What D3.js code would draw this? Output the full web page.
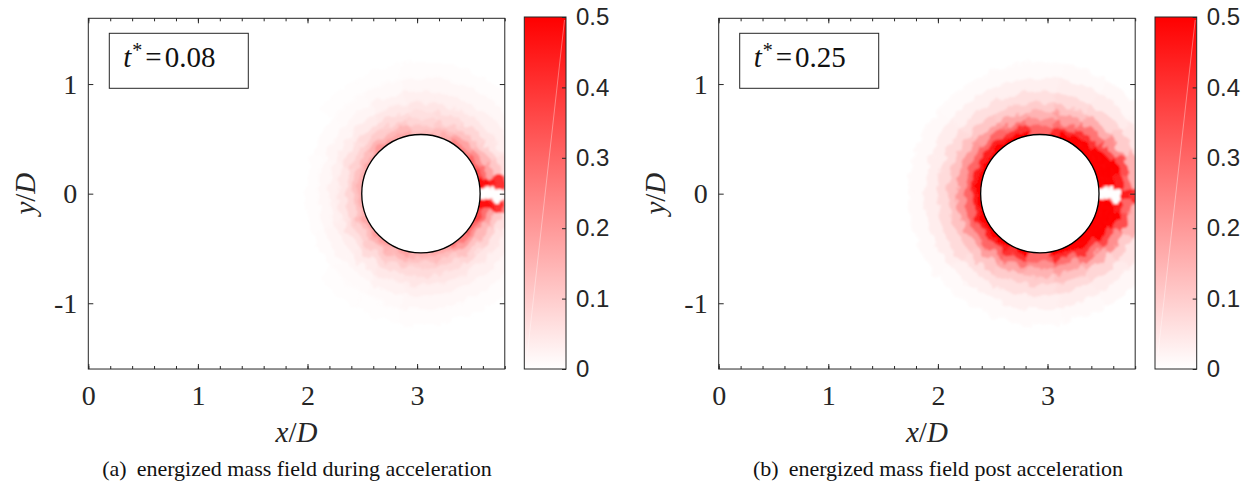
<!DOCTYPE html>
<html>
<head>
<meta charset="utf-8">
<script src="https://cdn.jsdelivr.net/npm/d3@7"></script>
<style>
  html, body { margin: 0; padding: 0; background: #ffffff; }
  svg { display: block; }
</style>
</head>
<body>
<svg id="fig" width="1252" height="489"></svg>
<script>
// ---- axis ranges and tick labels ----
const xDomain = [0, 3.8];
const yDomain = [-1.6, 1.6];
const xTickValues = [0, 1, 2, 3];
const yTickValues = [-1, 0, 1];
const colorDomain = [0, 0.5];
const colorTickValues = [0, 0.1, 0.2, 0.3, 0.4, 0.5];

// ---- polar bins around the cylinder ----
// angle edges in degrees, counter-clockwise from +x
const angleEdges = [-180, -160, -140, -120, -100, -80, -60, -40, -25, -13, -5,
                    5, 13, 25, 40, 60, 80, 100, 120, 140, 160, 180];
// distance from the cylinder wall, in D
const wallDistEdges = [0, 0.04, 0.09, 0.15, 0.22, 0.30, 0.40, 0.52, 0.66];
const cylinderRadius = 0.54;

// ---- panel (a): t* = 0.08 ----
const timeA = "0.08";
const centerA = [3.035, 0];
// energized mass, one row per angle bin (from -180 deg upward), one column per wall-distance ring
const fieldA = [
  [0.15, 0.12, 0.08, 0.05, 0.03, 0.015, 0.005, 0.0],
  [0.17, 0.13, 0.09, 0.06, 0.035, 0.02, 0.008, 0.0],
  [0.19, 0.15, 0.10, 0.07, 0.04, 0.02, 0.01, 0.003],
  [0.18, 0.14, 0.10, 0.07, 0.045, 0.025, 0.012, 0.004],
  [0.15, 0.12, 0.09, 0.07, 0.05, 0.03, 0.015, 0.005],
  [0.17, 0.13, 0.10, 0.07, 0.05, 0.03, 0.015, 0.005],
  [0.26, 0.19, 0.12, 0.08, 0.05, 0.03, 0.015, 0.005],
  [0.30, 0.22, 0.14, 0.09, 0.05, 0.03, 0.015, 0.005],
  [0.36, 0.28, 0.18, 0.11, 0.06, 0.03, 0.015, 0.005],
  [0.48, 0.48, 0.45, 0.40, 0.25, 0.10, 0.03, 0.01],
  [0.0, 0.0, 0.0, 0.0, 0.02, 0.02, 0.01, 0.0],
  [0.48, 0.48, 0.45, 0.40, 0.25, 0.10, 0.03, 0.01],
  [0.35, 0.28, 0.18, 0.11, 0.06, 0.03, 0.015, 0.005],
  [0.30, 0.22, 0.14, 0.09, 0.05, 0.03, 0.015, 0.005],
  [0.24, 0.18, 0.12, 0.08, 0.05, 0.03, 0.015, 0.005],
  [0.16, 0.13, 0.10, 0.07, 0.05, 0.03, 0.015, 0.005],
  [0.13, 0.11, 0.08, 0.06, 0.05, 0.03, 0.015, 0.005],
  [0.17, 0.14, 0.10, 0.07, 0.045, 0.025, 0.012, 0.004],
  [0.20, 0.15, 0.10, 0.07, 0.04, 0.02, 0.01, 0.003],
  [0.17, 0.13, 0.09, 0.06, 0.035, 0.02, 0.008, 0.0],
  [0.15, 0.12, 0.08, 0.05, 0.03, 0.015, 0.005, 0.0]
];

// ---- panel (b): t* = 0.25 ----
const timeB = "0.25";
const centerB = [2.93, 0];
const fieldB = [
  [0.50, 0.45, 0.30, 0.20, 0.12, 0.07, 0.035, 0.012],
  [0.50, 0.45, 0.30, 0.20, 0.12, 0.07, 0.035, 0.012],
  [0.50, 0.44, 0.30, 0.19, 0.11, 0.06, 0.03, 0.01],
  [0.50, 0.40, 0.27, 0.17, 0.10, 0.06, 0.03, 0.01],
  [0.30, 0.30, 0.22, 0.15, 0.10, 0.06, 0.03, 0.01],
  [0.50, 0.42, 0.28, 0.19, 0.12, 0.07, 0.035, 0.012],
  [0.50, 0.50, 0.40, 0.27, 0.16, 0.08, 0.04, 0.015],
  [0.50, 0.50, 0.50, 0.36, 0.22, 0.10, 0.05, 0.02],
  [0.50, 0.50, 0.50, 0.50, 0.35, 0.15, 0.06, 0.02],
  [0.50, 0.50, 0.50, 0.45, 0.30, 0.15, 0.06, 0.02],
  [0.0, 0.0, 0.0, 0.0, 0.45, 0.40, 0.20, 0.05],
  [0.50, 0.50, 0.50, 0.45, 0.30, 0.15, 0.06, 0.02],
  [0.50, 0.50, 0.50, 0.50, 0.35, 0.15, 0.06, 0.02],
  [0.50, 0.50, 0.50, 0.36, 0.22, 0.10, 0.05, 0.02],
  [0.50, 0.50, 0.40, 0.27, 0.16, 0.08, 0.04, 0.015],
  [0.50, 0.42, 0.28, 0.19, 0.12, 0.07, 0.035, 0.012],
  [0.30, 0.30, 0.22, 0.15, 0.10, 0.06, 0.03, 0.01],
  [0.50, 0.40, 0.27, 0.17, 0.10, 0.06, 0.03, 0.01],
  [0.50, 0.44, 0.30, 0.19, 0.11, 0.06, 0.03, 0.01],
  [0.50, 0.45, 0.30, 0.20, 0.12, 0.07, 0.035, 0.012],
  [0.50, 0.45, 0.30, 0.20, 0.12, 0.07, 0.035, 0.012]
];

// ---- captions ----
const captionTags = ["(a)", "(b)"];
const captionTexts = ["energized mass field during acceleration",
                      "energized mass field post acceleration"];

// ------------------------------------------------------------------
const SERIF = "'Liberation Serif', 'Times New Roman', serif";
const SANS = "'Liberation Sans', Arial, Helvetica, sans-serif";
const INK = "#262626";

const svg = d3.select("#fig");
const defs = svg.append("defs");

// particle-like softening of the cell edges
const soften = defs.append("filter").attr("id", "soften")
  .attr("x", "-20%").attr("y", "-20%").attr("width", "140%").attr("height", "140%");
soften.append("feTurbulence").attr("type", "fractalNoise").attr("baseFrequency", 0.1)
  .attr("numOctaves", 2).attr("seed", 7).attr("result", "grain");
soften.append("feDisplacementMap").attr("in", "SourceGraphic").attr("in2", "grain")
  .attr("scale", 12).attr("xChannelSelector", "R").attr("yChannelSelector", "G").attr("result", "moved");
soften.append("feGaussianBlur").attr("in", "moved").attr("stdDeviation", 1.2);

const color = d3.scaleLinear().domain(colorDomain).range(["#ffffff", "#ff0000"]).clamp(true);

const grad = defs.append("linearGradient").attr("id", "cbGrad")
  .attr("x1", 0).attr("y1", 1).attr("x2", 0).attr("y2", 0);
grad.append("stop").attr("offset", 0).attr("stop-color", color(colorDomain[0]));
grad.append("stop").attr("offset", 1).attr("stop-color", color(colorDomain[1]));

const unit = 109.6;        // pixels per D (equal aspect)
const plotTop = 18.3;
const panels = [
  { left: 88.3, cbLeft: 524.3, center: centerA, field: fieldA, time: timeA,
    tag: captionTags[0], caption: captionTexts[0], capX: 297, yLabelX: 35 },
  { left: 718.7, cbLeft: 1155, center: centerB, field: fieldB, time: timeB,
    tag: captionTags[1], caption: captionTexts[1], capX: 938, yLabelX: 665 }
];

panels.forEach((p, pi) => {
  const x = d3.scaleLinear().domain(xDomain).range([p.left, p.left + (xDomain[1] - xDomain[0]) * unit]);
  const y = d3.scaleLinear().domain(yDomain).range([plotTop + (yDomain[1] - yDomain[0]) * unit, plotTop]);
  const [x0, x1] = x.range();
  const [yb, yt] = y.range();
  const px = d => x(d) - x(0);   // length in D -> pixels

  // clip region = axes box
  defs.append("clipPath").attr("id", "clip" + pi)
    .append("rect").attr("x", x0).attr("y", yt).attr("width", x1 - x0).attr("height", yb - yt);

  // energized mass field as annular cells around the cylinder
  const clipped = svg.append("g").attr("clip-path", `url(#clip${pi})`);
  const fieldG = clipped.append("g").attr("filter", "url(#soften)")
    .attr("transform", `translate(${x(p.center[0])},${y(p.center[1])})`);
  const arc = d3.arc();
  const cells = [];
  p.field.forEach((row, ai) => row.forEach((v, ri) => {
    cells.push({ a0: angleEdges[ai], a1: angleEdges[ai + 1],
                 r0: ri === 0 ? cylinderRadius - 0.08 : cylinderRadius + wallDistEdges[ri],
                 r1: cylinderRadius + wallDistEdges[ri + 1], v });
  }));
  fieldG.selectAll("path").data(cells).join("path")
    .attr("d", c => arc({
      innerRadius: px(c.r0), outerRadius: px(c.r1),
      startAngle: (90 - c.a1) * Math.PI / 180,
      endAngle: (90 - c.a0) * Math.PI / 180
    }))
    .attr("fill", c => color(c.v))
    .attr("stroke", c => color(c.v))
    .attr("stroke-width", 0.8);

  // cylinder
  svg.append("circle")
    .attr("cx", x(p.center[0])).attr("cy", y(p.center[1])).attr("r", px(cylinderRadius))
    .attr("fill", "#ffffff").attr("stroke", "#000000").attr("stroke-width", 1.3);

  // axes box
  svg.append("rect").attr("x", x0).attr("y", yt).attr("width", x1 - x0).attr("height", yb - yt)
    .attr("fill", "none").attr("stroke", INK).attr("stroke-width", 1);

  const minorX = d3.range(0, xDomain[1] + 1e-9, 0.2);
  const styleAxis = g => {
    g.attr("font-family", null).attr("font-size", null);
    g.select(".domain").remove();
    g.selectAll(".tick line").attr("stroke", INK).attr("stroke-width", 1);
  };
  // minor ticks top/bottom
  svg.append("g").attr("transform", `translate(0,${yb})`)
    .call(d3.axisBottom(x).tickValues(minorX).tickSize(-3).tickFormat(""))
    .call(styleAxis);
  svg.append("g").attr("transform", `translate(0,${yt})`)
    .call(d3.axisTop(x).tickValues(minorX).tickSize(-3).tickFormat(""))
    .call(styleAxis);
  // major ticks + labels
  svg.append("g").attr("transform", `translate(0,${yb})`)
    .call(d3.axisBottom(x).tickValues(xTickValues).tickSize(-5).tickPadding(16).tickFormat(d3.format("d")))
    .call(styleAxis)
    .call(g => g.selectAll("text").style("font-family", SERIF).style("font-size", "28px").attr("fill", INK));
  svg.append("g").attr("transform", `translate(0,${yt})`)
    .call(d3.axisTop(x).tickValues(xTickValues).tickSize(-5).tickFormat(""))
    .call(styleAxis);
  svg.append("g").attr("transform", `translate(${x0},0)`)
    .call(d3.axisLeft(y).tickValues(yTickValues).tickSize(-5).tickPadding(11)
      .tickFormat(d => d < 0 ? "-" + Math.abs(d) : String(d)))
    .call(styleAxis)
    .call(g => g.selectAll("text").style("font-family", SERIF).style("font-size", "28px").attr("fill", INK));
  svg.append("g").attr("transform", `translate(${x1},0)`)
    .call(d3.axisRight(y).tickValues(yTickValues).tickSize(-5).tickFormat(""))
    .call(styleAxis);

  // axis titles
  const xl = svg.append("text").attr("x", (x0 + x1) / 2).attr("y", 442)
    .attr("text-anchor", "middle").style("font-family", SERIF).style("font-size", "29px").attr("fill", INK);
  xl.append("tspan").attr("font-style", "italic").text("x");
  xl.append("tspan").text("/");
  xl.append("tspan").attr("font-style", "italic").text("D");
  const yl = svg.append("text")
    .attr("transform", `translate(${p.yLabelX},${(yt + yb) / 2}) rotate(-90)`)
    .attr("text-anchor", "middle").style("font-family", SERIF).style("font-size", "29px").attr("fill", INK);
  yl.append("tspan").attr("font-style", "italic").text("y");
  yl.append("tspan").text("/");
  yl.append("tspan").attr("font-style", "italic").text("D");

  // time annotation box
  svg.append("rect").attr("x", x0 + 21).attr("y", 33.3).attr("width", 139).attr("height", 55)
    .attr("fill", "#ffffff").attr("stroke", INK).attr("stroke-width", 1);
  const tt = svg.append("text").attr("x", x0 + 35).attr("y", 67)
    .style("font-family", SERIF).style("font-size", "29px").attr("fill", "#111");
  tt.append("tspan").attr("font-style", "italic").text("t");
  tt.append("tspan").style("font-size", "20px").attr("dy", -10).attr("dx", 1).text("*");
  tt.append("tspan").attr("dy", 10).attr("dx", 3).text("=");
  tt.append("tspan").attr("dx", 3).text(p.time);

  // colorbar
  const cbW = 41.7, cbTop = 17, cbBot = 369;
  const cs = d3.scaleLinear().domain(colorDomain).range([cbBot, cbTop]);
  svg.append("rect").attr("x", p.cbLeft).attr("y", cbTop).attr("width", cbW).attr("height", cbBot - cbTop)
    .attr("fill", "url(#cbGrad)");
  svg.append("line")
    .attr("x1", p.cbLeft + 3).attr("y1", cbBot - 15).attr("x2", p.cbLeft + cbW - 1.5).attr("y2", cbTop + 3)
    .attr("stroke", "#ffffff").attr("stroke-opacity", 0.45).attr("stroke-width", 0.8);
  svg.append("rect").attr("x", p.cbLeft).attr("y", cbTop).attr("width", cbW).attr("height", cbBot - cbTop)
    .attr("fill", "none").attr("stroke", INK).attr("stroke-width", 1);
  svg.append("g").attr("transform", `translate(${p.cbLeft + cbW},0)`)
    .call(d3.axisRight(cs).tickValues(colorTickValues).tickSize(-4).tickPadding(10).tickFormat(d => String(d)))
    .call(styleAxis)
    .call(g => g.selectAll("text").style("font-family", SANS).style("font-size", "24px").attr("fill", INK));

  // caption
  const cap = svg.append("text").attr("x", p.capX).attr("y", 476).attr("text-anchor", "middle")
    .style("font-family", SERIF).style("font-size", "22px").attr("fill", "#111");
  cap.append("tspan").text(p.tag);
  cap.append("tspan").attr("dx", 10).text(p.caption);
});
</script>
</body>
</html>
